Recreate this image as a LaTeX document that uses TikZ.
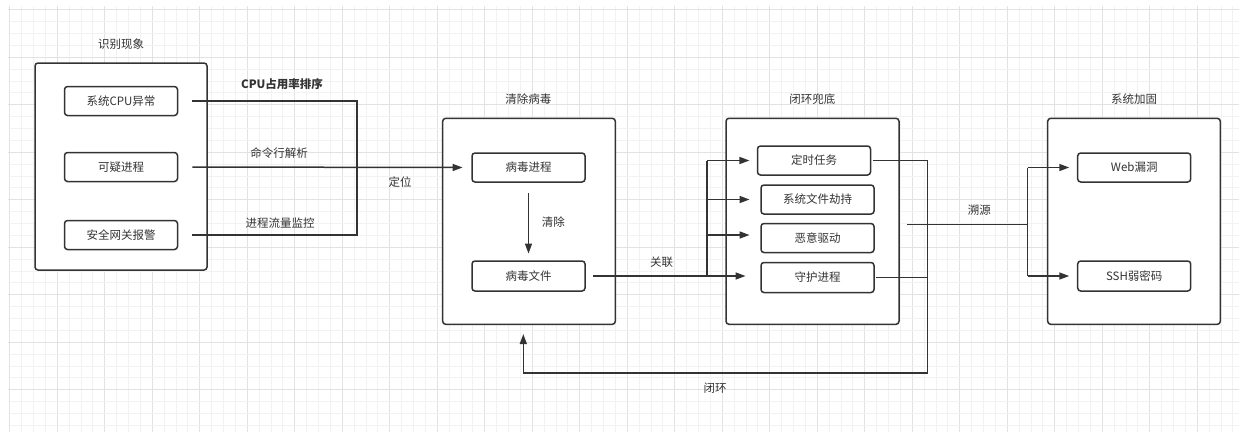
\documentclass[tikz,border=0pt]{standalone}
\usepackage{fontspec}
\setmainfont{Noto Sans CJK SC}
\usetikzlibrary{arrows.meta}
\definecolor{ink}{HTML}{333333}
\definecolor{gridminor}{HTML}{F2F2F2}
\definecolor{gridmajor}{HTML}{E2E2E2}
\tikzset{
  innerbox/.style={draw=ink, line width=1.5pt, rounded corners=3pt, minimum width=113pt, minimum height=29pt, inner sep=0pt, fill=white, text=ink, font=\fontsize{11.5}{13}\selectfont},
  outerbox/.style={draw=ink, line width=1.5pt, rounded corners=3pt, inner sep=0pt, fill=white},
  lbl/.style={text=ink, inner sep=0pt, font=\fontsize{11.5}{13}\selectfont},
  conn/.style={draw=ink, line width=1.5pt},
  arrowconn/.style={conn, -{Triangle[length=10pt,width=7pt]}},
}
\begin{document}
\begin{tikzpicture}[x=1pt,y=-1pt]
\useasboundingbox (0,0) rectangle (1239,432);
\fill[white] (0,0) rectangle (1239,432);
% grid
\begin{scope}
\clip (8,6) rectangle (1239,432);
\foreach \i in {0,...,103} {
  \pgfmathtruncatemacro{\m}{mod(\i,4)}
  \ifnum\m=0
    \draw[gridmajor, line width=0.9pt] ({9.8+11.875*\i},0) -- ({9.8+11.875*\i},432);
  \else
    \draw[gridminor, line width=0.9pt] ({9.8+11.875*\i},0) -- ({9.8+11.875*\i},432);
  \fi
}
\foreach \i in {0,...,36} {
  \pgfmathtruncatemacro{\m}{mod(\i,4)}
  \ifnum\m=0
    \draw[gridmajor, line width=0.9pt] (0,{9.8+11.875*\i}) -- (1239,{9.8+11.875*\i});
  \else
    \draw[gridminor, line width=0.9pt] (0,{9.8+11.875*\i}) -- (1239,{9.8+11.875*\i});
  \fi
}
\end{scope}

% outer boxes
\node[outerbox, minimum width=172pt, minimum height=207pt] (b1) at (121,166.5) {};
\node[outerbox, minimum width=172.6pt, minimum height=206pt] (b2) at (529,221.3) {};
\node[outerbox, minimum width=173pt, minimum height=206pt] (b3) at (812.5,221.3) {};
\node[outerbox, minimum width=172.6pt, minimum height=206pt] (b4) at (1134,221.3) {};

% titles
\node[lbl] (t1) at (121,44) {识别现象};
\node[lbl] (t2) at (528.3,99) {清除病毒};
\node[lbl] (t3) at (812.3,99.3) {闭环兜底};
\node[lbl] (t4) at (1134,99) {系统加固};

% inner boxes
\node[innerbox] (cpu) at (121,101) {系统CPU异常};
\node[innerbox] (sus) at (121,167) {可疑进程};
\node[innerbox] (alarm) at (121,235) {安全网关报警};
\node[innerbox] (vp) at (528.5,167.5) {病毒进程};
\node[innerbox, minimum height=30pt] (vf) at (528.5,276) {病毒文件};
\node[innerbox] (timer) at (814,160.5) {定时任务};
\node[innerbox] (hijack) at (817.5,199.5) {系统文件劫持};
\node[innerbox] (driver) at (817.5,238) {恶意驱动};
\node[innerbox, minimum height=30pt] (daemon) at (817.5,277.5) {守护进程};
\node[innerbox] (web) at (1134.2,167.5) {Web漏洞};
\node[innerbox, minimum height=30pt] (ssh) at (1134.2,276) {SSH弱密码};

% junction coordinates
\coordinate (jL) at (357,167);
\coordinate (jM) at (707,276);
\coordinate (jR) at (927.3,373);
\coordinate (cl) at (523.3,373);
\coordinate (jS) at (1027.7,224.7);
\coordinate (sS) at (906.7,224.7);

% left group
\draw[conn] ([xshift=14pt]cpu.east) -| (jL);
\draw[conn] ([xshift=14pt]alarm.east) -| (jL);
\draw[arrowconn] ([xshift=14pt]sus.east) -- ([xshift=-8.7pt]vp.west);

% 清除
\draw[arrowconn] ([yshift=-10pt]vp.south) -- ([yshift=6.7pt]vf.north);

% 关联
\draw[arrowconn] ([xshift=7.7pt]vf.east) -- ([xshift=-14.7pt]daemon.west |- vf.east);
\draw[conn] (jM |- timer.west) -- (jM |- vf.east);
\draw[arrowconn] (jM |- timer.west) -- ([xshift=-7.3pt]timer.west);
\draw[arrowconn] (jM |- hijack.west) -- ([xshift=-10.7pt]hijack.west);
\draw[arrowconn] ([yshift=3pt]jM |- driver.west) -- ([xshift=-10.7pt,yshift=3pt]driver.west);

% 闭环
\draw[arrowconn] ([xshift=1.7pt]timer.east) -| (jR) -- (cl) -- ([yshift=-9pt]b2.south -| cl);
\draw[conn] ([xshift=1.7pt]daemon.east) -- (daemon.east -| jR);

% 溯源
\draw[conn] (sS) -- (jS);
\draw[conn] (jS |- web.west) -- (jS |- ssh.west);
\draw[arrowconn] (jS |- web.west) -- ([xshift=-7.7pt]web.west);
\draw[arrowconn] (jS |- ssh.west) -- ([xshift=-7.7pt]ssh.west);

% connector labels
\node[lbl, font=\fontsize{11.5}{13}\selectfont\bfseries] (l1) at (282,84) {CPU占用率排序};
\node[lbl] (l2) at (279,153.3) {命令行解析};
\node[lbl] (l3) at (280,222.7) {进程流量监控};
\node[lbl] (l4) at (400,181.7) {定位};
\node[lbl] (l5) at (553.3,221.7) {清除};
\node[lbl] (l6) at (661.7,261.7) {关联};
\node[lbl] (l7) at (979.3,210) {溯源};
\node[lbl] (l8) at (715,387.7) {闭环};
\end{tikzpicture}
\end{document}
